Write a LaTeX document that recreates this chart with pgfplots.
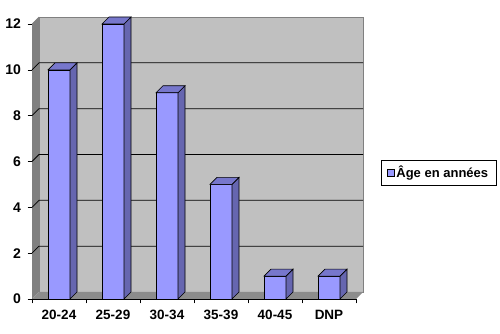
\documentclass[border=0pt]{standalone}
\usepackage{pgfplots}
\pgfplotsset{compat=1.18}
\usepackage{fontspec}
\setmainfont{Liberation Sans}
\definecolor{barfront}{HTML}{9999FF}
\definecolor{barside}{HTML}{6666B0}
\definecolor{bartop}{HTML}{7777CC}
\definecolor{wallback}{HTML}{C0C0C0}
\definecolor{wallleft}{HTML}{808080}
\definecolor{floorc}{HTML}{8C8C8C}
\pgfdeclareplotmark{emptymark}{}
\pgfplotstableread{
x v
0.5 10
1.5 12
2.5 9
3.5 5
4.5 1
5.5 1
}\agedata
\begin{document}
\begin{tikzpicture}[x=1pt,y=1pt]
\useasboundingbox (0,0) rectangle (500,334);
\begin{axis}[
  at={(32pt,35pt)}, anchor=south west,
  scale only axis, width=324pt, height=275pt,
  xmin=0, xmax=6, ymin=0, ymax=12,
  clip=false,
  axis x line*=bottom, axis y line*=left,
  axis line style={black, line width=0.8pt, -},
  ytick={0,2,...,12},
  xtick={0,1,...,6},
  x tick label as interval,
  xticklabels={20-24,25-29,30-34,35-39,40-45,DNP},
  tick align=outside,
  major tick length=4.5pt,
  tick style={black, line width=0.6pt},
  xticklabel style={font=\bfseries\fontsize{13.5}{15}\selectfont, yshift=-3pt},
  yticklabel style={font=\bfseries\fontsize{14}{16}\selectfont, xshift=-3pt},
  /pgf/number format/assume math mode=true,
  legend style={at={(1.2546,0.46)}, anchor=center, draw=black, line width=0.6pt,
    font=\bfseries\fontsize{13}{15}\selectfont, inner xsep=6pt, inner ysep=4pt,
    cells={anchor=west}},
  legend image code/.code={\draw[fill=barfront,draw=black,line width=0.6pt] (0pt,-3.5pt) rectangle (7pt,3.5pt);},
]
% walls
\fill[wallleft] (axis cs:0,0) -- (axis cs:0,12) -- ([shift={(7pt,7pt)}]axis cs:0,12) -- ([shift={(7pt,7pt)}]axis cs:0,0) -- cycle;
\filldraw[fill=wallback, draw=gray, line width=0.6pt] ([shift={(7pt,7pt)}]axis cs:0,0) rectangle ([shift={(7pt,7pt)}]axis cs:6,12);
\fill[floorc] (axis cs:0,0) -- (axis cs:6,0) -- ([shift={(7pt,7pt)}]axis cs:6,0) -- ([shift={(7pt,7pt)}]axis cs:0,0) -- cycle;
\draw[gray, line width=0.6pt] (axis cs:0,12) -- ([shift={(7pt,7pt)}]axis cs:0,12);
\pgfplotsinvokeforeach{2,4,6,8,10}{
  \draw[black, line width=0.8pt] (axis cs:0,#1) -- ([shift={(7pt,7pt)}]axis cs:0,#1) -- ([shift={(7pt,7pt)}]axis cs:6,#1);
}
% front faces
\addplot[ybar, bar width=22pt, fill=barfront, draw=black, line width=0.6pt] table[x=x,y=v] {\agedata};
\addlegendentry{Âge en années}
% side and top faces
\addplot[forget plot, scatter, only marks, mark=emptymark,
  visualization depends on={\thisrow{v} \as \val},
  scatter/@pre marker code/.code={%
    \pgfmathsetmacro\hh{\val*275/12}%
    \pgfsetlinewidth{0.6pt}\pgfsetstrokecolor{black}%
    \pgfsetfillcolor{barside}%
    \pgfpathmoveto{\pgfpoint{11pt}{0pt}}%
    \pgfpathlineto{\pgfpoint{18pt}{7pt}}%
    \pgfpathlineto{\pgfpoint{18pt}{7pt-\hh pt}}%
    \pgfpathlineto{\pgfpoint{11pt}{-\hh pt}}%
    \pgfpathclose
    \pgfusepath{fill,stroke}%
    \pgfsetfillcolor{bartop}%
    \pgfpathmoveto{\pgfpoint{-11pt}{0pt}}%
    \pgfpathlineto{\pgfpoint{11pt}{0pt}}%
    \pgfpathlineto{\pgfpoint{18pt}{7pt}}%
    \pgfpathlineto{\pgfpoint{-4pt}{7pt}}%
    \pgfpathclose
    \pgfusepath{fill,stroke}%
  },
  scatter/@post marker code/.code={},
] table[x=x,y=v] {\agedata};
\end{axis}
\end{tikzpicture}
\end{document}
